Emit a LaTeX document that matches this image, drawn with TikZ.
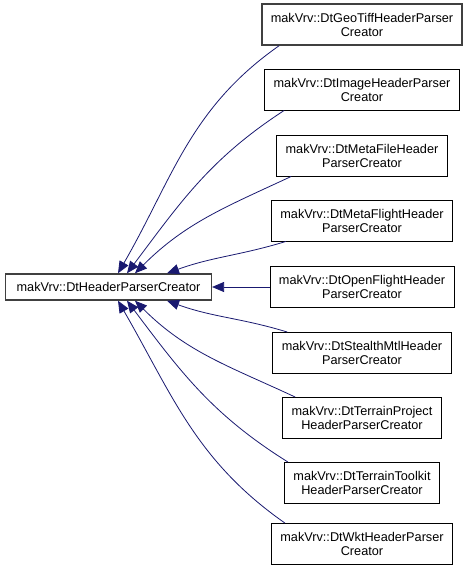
\documentclass[tikz,border=0pt]{standalone}
\usepackage{fontspec}
\setmainfont{Liberation Sans}
\usetikzlibrary{arrows.meta}
\definecolor{edgeblue}{RGB}{25,25,112}
\tikzset{
  cls/.style={draw=black, line width=0.9pt, fill=white, align=center,
    inner xsep=9pt, inner ysep=0pt, minimum height=41pt,
    font=\fontsize{12.7}{14}\selectfont},
  basecls/.style={cls, draw=black!75, line width=1.4pt, minimum height=26pt, inner xsep=11pt},
  edge/.style={draw=edgeblue, line width=0.8pt, -{Triangle[length=12pt,width=10pt]}}
}
\begin{document}
\begin{tikzpicture}
\useasboundingbox (0,0) rectangle (471pt,-575pt);
%%% the base class on the left
\node[basecls] (base) at (108.5pt,-287pt) {makVrv::DtHeaderParserCreator};
%%% the derived classes on the right
\node[cls, draw=black!75, line width=1.4pt] (geotiff) at (362pt,-24.5pt) {makVrv::DtGeoTiffHeaderParser\\Creator};
\node[cls] (image) at (362pt,-89.5pt) {makVrv::DtImageHeaderParser\\Creator};
\node[cls] (metafile) at (362pt,-155.5pt) {makVrv::DtMetaFileHeader\\ParserCreator};
\node[cls] (metaflight) at (362pt,-220.5pt) {makVrv::DtMetaFlightHeader\\ParserCreator};
\node[cls] (openflight) at (362pt,-287pt) {makVrv::DtOpenFlightHeader\\ParserCreator};
\node[cls] (stealth) at (362pt,-353pt) {makVrv::DtStealthMtlHeader\\ParserCreator};
\node[cls] (terrproj) at (362pt,-418pt) {makVrv::DtTerrainProject\\HeaderParserCreator};
\node[cls] (terrtool) at (362pt,-483pt) {makVrv::DtTerrainToolkit\\HeaderParserCreator};
\node[cls] (wkt) at (362pt,-544pt) {makVrv::DtWktHeaderParser\\Creator};
%%% inheritance edges
\draw[edge] ([xshift=18pt]geotiff.south west) to[out=215,in=60] ([xshift=9.5pt]base.north);
\draw[edge] ([xshift=20pt]image.south west) to[out=213,in=53] ([xshift=18.5pt]base.north);
\draw[edge] ([xshift=15pt]metafile.south west) to[out=205,in=45] ([xshift=26.5pt]base.north);
\draw[edge] ([xshift=15pt]metaflight.south west) to[out=197,in=20] ([xshift=58.5pt]base.north);
\draw[edge] (openflight) -- (base);
\draw[edge] ([xshift=15pt]stealth.north west) to[out=163,in=-20] ([xshift=58.5pt]base.south);
\draw[edge] ([xshift=13pt]terrproj.north west) to[out=155,in=-45] ([xshift=26.5pt]base.south);
\draw[edge] ([xshift=4pt]terrtool.north west) to[out=148,in=-53] ([xshift=18.5pt]base.south);
\draw[edge] ([xshift=14pt]wkt.north west) to[out=145,in=-60] ([xshift=9.5pt]base.south);
\end{tikzpicture}
\end{document}
